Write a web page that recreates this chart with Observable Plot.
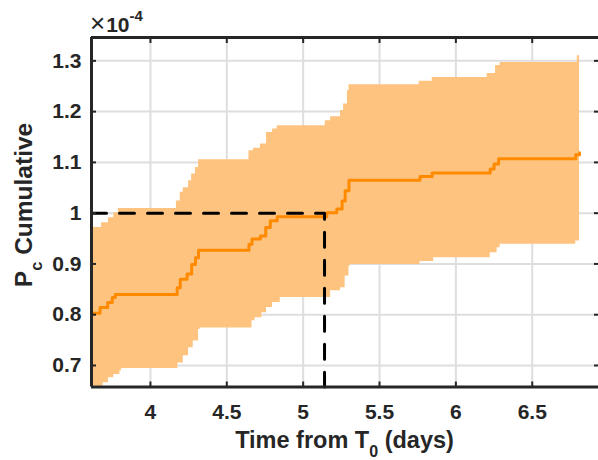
<!DOCTYPE html>
<html>
<head>
<meta charset="utf-8">
<script src="https://cdn.jsdelivr.net/npm/d3@7"></script>
<script src="https://cdn.jsdelivr.net/npm/@observablehq/plot@0.6"></script>
<style>
  html, body { margin: 0; padding: 0; background: #fff; }
  #chart { width: 598px; height: 460px; }
</style>
</head>
<body>
<div id="chart"></div>
<script>
// Time from T0 (days), common step grid
const time = [3.60, 3.67, 3.68, 3.69, 3.72, 3.725, 3.75, 3.76, 3.77, 3.79, 3.80, 3.81,
  4.17, 4.175, 4.18, 4.195, 4.215, 4.24, 4.25, 4.27, 4.28, 4.295, 4.315, 4.325,
  4.645, 4.665, 4.675, 4.685, 4.72, 4.73, 4.755, 4.76, 4.785, 4.80, 4.83, 4.85,
  5.145, 5.155, 5.18, 5.22, 5.245, 5.255, 5.265, 5.275, 5.29, 5.30, 5.31,
  5.76, 5.765, 5.845, 5.855, 6.205, 6.225, 6.25, 6.26, 6.27, 6.28, 6.29, 6.785, 6.795, 6.81];
// Pc cumulative (x1e-4), median estimate
const median = [0.803, 0.814, 0.814, 0.814, 0.824, 0.824, 0.834, 0.834, 0.840, 0.840, 0.840, 0.840,
  0.840, 0.853, 0.853, 0.870, 0.870, 0.880, 0.880, 0.899, 0.899, 0.912, 0.927, 0.927,
  0.939, 0.949, 0.949, 0.949, 0.955, 0.955, 0.972, 0.972, 0.985, 0.985, 0.993, 0.993,
  0.993, 1.001, 1.001, 1.008, 1.008, 1.024, 1.024, 1.044, 1.044, 1.065, 1.065,
  1.065, 1.072, 1.079, 1.079, 1.079, 1.087, 1.097, 1.097, 1.097, 1.107, 1.107, 1.115, 1.115, 1.119];
// lower bound
const lower = [0.659, 0.659, 0.659, 0.666, 0.666, 0.676, 0.676, 0.682, 0.682, 0.682, 0.689, 0.694,
  0.694, 0.694, 0.705, 0.705, 0.719, 0.719, 0.735, 0.735, 0.748, 0.748, 0.771, 0.774,
  0.774, 0.788, 0.788, 0.794, 0.794, 0.804, 0.804, 0.814, 0.814, 0.824, 0.824, 0.834,
  0.834, 0.834, 0.847, 0.847, 0.853, 0.853, 0.853, 0.876, 0.876, 0.896, 0.899,
  0.899, 0.905, 0.905, 0.912, 0.912, 0.922, 0.922, 0.922, 0.932, 0.932, 0.939, 0.945, 0.945, 0.945];
// upper bound
const upper = [0.972, 0.972, 0.981, 0.981, 0.981, 0.991, 0.991, 1.001, 1.001, 1.009, 1.009, 1.009,
  1.024, 1.024, 1.024, 1.041, 1.050, 1.050, 1.064, 1.077, 1.077, 1.090, 1.105, 1.105,
  1.123, 1.123, 1.128, 1.128, 1.136, 1.136, 1.136, 1.159, 1.159, 1.166, 1.172, 1.172,
  1.182, 1.182, 1.190, 1.190, 1.202, 1.202, 1.215, 1.215, 1.241, 1.253, 1.253,
  1.260, 1.260, 1.267, 1.267, 1.275, 1.275, 1.275, 1.291, 1.291, 1.291, 1.297, 1.297, 1.310, 1.310];

// threshold marker
const thresholdValue = [1.0];
const thresholdTime = [5.14];

const xTicks = [4, 4.5, 5, 5.5, 6, 6.5];
const yTicks = [0.7, 0.8, 0.9, 1.0, 1.1, 1.2, 1.3];
const xDomain = [3.614, 6.934];
const yDomain = [0.6576, 1.346];

const rows = time.map((t, i) => ({t, m: median[i], lo: lower[i], hi: upper[i]}));
const dashPts = [
  {t: xDomain[0], v: thresholdValue[0]},
  {t: thresholdTime[0], v: thresholdValue[0]},
  {t: thresholdTime[0], v: yDomain[0]}
];

const FONT = "'Liberation Sans', Arial, Helvetica, sans-serif";
const axisColor = "#262626";
const fmt = d => String(+d.toFixed(1));
const blank = () => "";

const plot = Plot.plot({
  width: 598,
  height: 460,
  marginLeft: 91,
  marginRight: 0,
  marginTop: 37,
  marginBottom: 73.5,
  style: {fontFamily: FONT, background: "#fff"},
  x: {domain: xDomain, axis: null},
  y: {domain: yDomain, axis: null},
  marks: [
    Plot.gridX(xTicks, {stroke: "#dedede", strokeOpacity: 1, strokeWidth: 2}),
    Plot.gridY(yTicks, {stroke: "#dedede", strokeOpacity: 1, strokeWidth: 2}),
    Plot.areaY(rows, {x: "t", y1: "lo", y2: "hi", curve: "step-after", fill: "#fdc37f", clip: true}),
    Plot.line(rows, {x: "t", y: "m", curve: "step-after", stroke: "#ff8a00", strokeWidth: 3, clip: true}),
    Plot.line(dashPts, {x: "t", y: "v", stroke: "#000", strokeWidth: 3, strokeDasharray: "15,13"}),
    Plot.ruleX([xDomain[0]], {stroke: axisColor, strokeWidth: 3}),
    Plot.ruleY([yDomain[0], yDomain[1]], {stroke: axisColor, strokeWidth: 3}),
    Plot.axisX(xTicks, {anchor: "bottom", tickSize: -5, tickFormat: blank, stroke: axisColor, strokeWidth: 2, label: null}),
    Plot.axisX(xTicks, {anchor: "top", tickSize: -5, tickFormat: blank, stroke: axisColor, strokeWidth: 2, label: null}),
    Plot.axisY(yTicks, {anchor: "left", tickSize: -5, tickFormat: blank, stroke: axisColor, strokeWidth: 2, label: null}),
    Plot.axisY(yTicks, {anchor: "right", tickSize: -5, tickFormat: blank, stroke: axisColor, strokeWidth: 2, label: null}),
    Plot.axisX(xTicks, {anchor: "bottom", tickSize: 0, tickPadding: 17, tickFormat: fmt,
      fontSize: 21, fontWeight: "bold", fill: axisColor, label: null}),
    Plot.axisY(yTicks, {anchor: "left", tickSize: 0, tickPadding: 10, tickFormat: fmt,
      fontSize: 21, fontWeight: "bold", fill: axisColor, label: null})
  ]
});

const svg = d3.select(plot);
// x axis title
const xt = svg.append("text")
  .attr("x", 344.5).attr("y", 448)
  .attr("text-anchor", "middle")
  .attr("font-family", FONT).attr("font-size", 23.5).attr("font-weight", "bold")
  .attr("fill", axisColor);
xt.append("tspan").text("Time from T");
xt.append("tspan").attr("font-size", 16).attr("dy", 9).text("0");
xt.append("tspan").attr("dy", -9).text(" (days)");

// y axis title
const yt = svg.append("text")
  .attr("transform", "translate(32,205) rotate(-90)")
  .attr("text-anchor", "middle")
  .attr("font-family", FONT).attr("font-size", 24.5).attr("font-weight", "bold")
  .attr("fill", axisColor);
yt.append("tspan").text("P");
yt.append("tspan").attr("font-size", 16.5).attr("dy", 10).text("c");
yt.append("tspan").attr("dy", -10).text(" Cumulative");

// exponent label
const ex = svg.append("text")
  .attr("x", 90).attr("y", 32)
  .attr("text-anchor", "start")
  .attr("font-family", FONT).attr("font-size", 21).attr("font-weight", "bold")
  .attr("fill", axisColor);
ex.append("tspan").attr("font-weight", "normal").attr("font-size", 26).text("\u00d7");
ex.append("tspan").attr("dx", 1).text("10");
ex.append("tspan").attr("font-size", 15).attr("dy", -11).text("-4");

document.getElementById("chart").appendChild(plot);
</script>
</body>
</html>
